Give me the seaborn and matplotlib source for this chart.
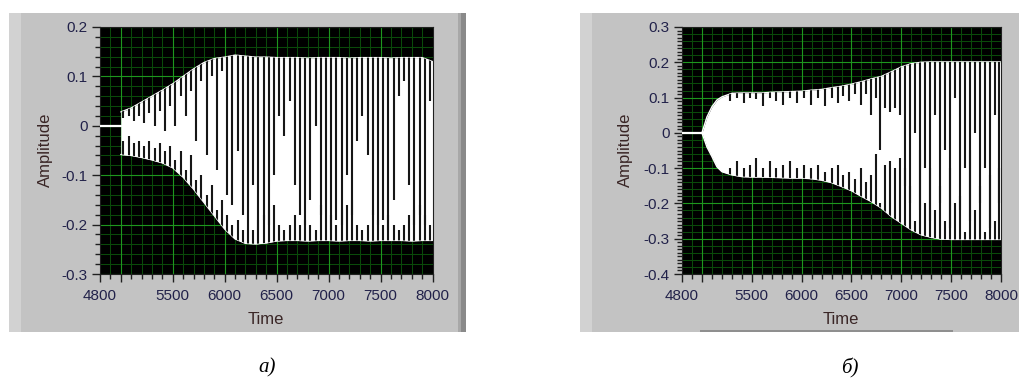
import matplotlib
matplotlib.use("Agg")
import numpy as np
import pandas as pd
import matplotlib.pyplot as plt
import seaborn as sns
from matplotlib.patches import Rectangle
from matplotlib.ticker import FixedLocator, MultipleLocator

# ---------------- data ----------------
# panel a) envelope of the oscillation
a_env_t = [5000, 5100, 5200, 5300, 5400, 5500, 5600, 5700, 5800, 5900, 6000,
           6100, 6200, 6300, 6400, 6500, 6600, 6700, 6800, 6900, 7000,
           7100, 7200, 7300, 7400, 7500, 7600, 7700, 7800, 7900, 8000]
a_env_hi = [0.028, 0.036, 0.048, 0.060, 0.072, 0.085, 0.100, 0.115, 0.128, 0.136, 0.139,
            0.143, 0.141, 0.139, 0.139, 0.138, 0.138, 0.138, 0.137, 0.138, 0.138,
            0.138, 0.137, 0.138, 0.138, 0.138, 0.137, 0.138, 0.138, 0.138, 0.130]
a_env_lo = [-0.058, -0.060, -0.064, -0.069, -0.075, -0.085, -0.104, -0.128, -0.155, -0.182, -0.209,
            -0.229, -0.238, -0.239, -0.237, -0.233, -0.232, -0.232, -0.233, -0.232, -0.232,
            -0.233, -0.232, -0.232, -0.233, -0.232, -0.232, -0.232, -0.233, -0.232, -0.232]
# panel a) dark gaps between strokes: time, lowest point of gap from top, highest point of gap from bottom
a_gap_t = [5025, 5075, 5125, 5175, 5225, 5275, 5325, 5375, 5425, 5475,
           5525, 5575, 5625, 5675, 5725, 5775, 5825, 5875, 5925, 5975,
           6025, 6075, 6125, 6175, 6225, 6275, 6325, 6375, 6425, 6475,
           6525, 6575, 6625, 6675, 6725, 6775, 6825, 6875, 6925, 6975,
           7025, 7075, 7125, 7175, 7225, 7275, 7325, 7375, 7425, 7475,
           7525, 7575, 7625, 7675, 7725, 7775, 7825, 7875, 7925, 7975]
a_gap_top = [0.015, 0.020, 0.010, 0.020, 0.005, 0.025, 0.000, 0.030, -0.010, 0.040,
             0.000, 0.060, 0.020, 0.070, -0.030, 0.090, -0.060, 0.100, -0.090, 0.110,
             -0.140, -0.160, -0.050, -0.180, -0.200, -0.120, -0.210, -0.190, -0.200, -0.100,
             0.020, -0.020, 0.050, -0.120, -0.180, -0.200, -0.150, 0.000, -0.180, -0.200,
             -0.210, -0.190, -0.200, -0.100, -0.180, -0.030, 0.020, -0.060, -0.180, -0.200,
             -0.190, -0.210, -0.150, 0.060, 0.090, -0.120, -0.200, -0.180, -0.200, 0.050]
a_gap_bot = [-0.030, -0.020, -0.035, -0.030, -0.040, -0.030, -0.045, -0.035, -0.050, -0.040,
             -0.070, -0.050, -0.090, -0.060, -0.110, -0.100, -0.140, -0.120, -0.170, -0.150,
             -0.180, -0.200, -0.190, -0.210, -0.200, -0.210, -0.190, -0.180, -0.170, -0.160,
             -0.200, -0.210, -0.200, -0.180, -0.200, -0.190, -0.200, -0.210, -0.160, -0.200,
             -0.180, -0.200, -0.170, -0.160, -0.150, -0.200, -0.210, -0.200, -0.170, -0.190,
             -0.200, -0.180, -0.200, -0.210, -0.200, -0.180, -0.170, -0.160, -0.180, -0.200]

# panel б) envelope
b_env_t = [5000, 5050, 5100, 5150, 5200, 5300, 5400, 5500, 5600, 5700, 5800, 5900, 6000,
           6100, 6200, 6300, 6400, 6500, 6600, 6700, 6800, 6900, 7000,
           7100, 7200, 7300, 7400, 7500, 7600, 7700, 7800, 7900, 8000]
b_env_hi = [0.0, 0.045, 0.074, 0.093, 0.102, 0.112, 0.113, 0.113, 0.113, 0.115, 0.116, 0.117, 0.118,
            0.121, 0.123, 0.128, 0.132, 0.138, 0.145, 0.153, 0.160, 0.173, 0.187,
            0.196, 0.200, 0.201, 0.201, 0.201, 0.201, 0.201, 0.201, 0.201, 0.201]
b_env_lo = [0.0, -0.040, -0.067, -0.096, -0.110, -0.119, -0.124, -0.125, -0.125, -0.126, -0.127, -0.128, -0.128,
            -0.130, -0.134, -0.141, -0.152, -0.164, -0.180, -0.195, -0.213, -0.237, -0.256,
            -0.275, -0.289, -0.296, -0.301, -0.302, -0.302, -0.302, -0.302, -0.302, -0.302]
b_gap_t = [5280, 5350, 5420, 5480, 5540, 5610, 5680, 5740, 5810, 5880, 5950, 6020,
           6090, 6160, 6230, 6300, 6360, 6420, 6480, 6540, 6600, 6650, 6700, 6745,
           6790, 6840, 6890, 6940, 6990, 7040, 7090, 7140, 7190, 7240, 7290, 7340,
           7390, 7440, 7490, 7540, 7590, 7640, 7690, 7740, 7790, 7840, 7890, 7940, 7980]
b_gap_top = [0.090, 0.100, 0.085, 0.100, 0.095, 0.075, 0.100, 0.090, 0.080, 0.100, 0.085, 0.100,
             0.080, 0.100, 0.075, 0.100, 0.085, 0.105, 0.090, 0.110, 0.080, 0.110, 0.050, 0.100,
             -0.050, 0.070, 0.060, 0.070, 0.050, -0.150, -0.200, 0.000, -0.220, -0.100, -0.250, 0.050,
             -0.200, -0.050, -0.270, 0.100, -0.220, -0.100, -0.250, 0.000, -0.200, -0.100, -0.270, 0.050, -0.200]
b_gap_bot = [-0.100, -0.080, -0.100, -0.090, -0.070, -0.100, -0.080, -0.100, -0.090, -0.080, -0.100, -0.090,
             -0.100, -0.090, -0.110, -0.100, -0.090, -0.120, -0.110, -0.130, -0.100, -0.140, -0.120, -0.060,
             -0.200, -0.090, -0.080, -0.100, -0.070, -0.100, -0.150, -0.250, -0.050, -0.200, -0.100, -0.220,
             -0.150, -0.250, -0.100, -0.200, -0.180, -0.280, -0.050, -0.220, -0.150, -0.280, -0.120, -0.250, -0.100]

x_tick_vals = [4800, 5000, 5500, 6000, 6500, 7000, 7500, 8000]
x_tick_labels = ["4800", "", "5500", "6000", "6500", "7000", "7500", "8000"]
a_y_ticks = [0.2, 0.1, 0.0, -0.1, -0.2, -0.3]
a_y_labels = ["0.2", "0.1", "0", "-0.1", "-0.2", "-0.3"]
b_y_ticks = [0.3, 0.2, 0.1, 0.0, -0.1, -0.2, -0.3, -0.4]
b_y_labels = ["0.3", "0.2", "0.1", "0", "-0.1", "-0.2", "-0.3", "-0.4"]

# ---------------- styling ----------------
sns.set_theme(style="dark")
plt.rcParams["font.family"] = ["Liberation Sans", "DejaVu Sans"]

TICK_COL = "#22224a"
LAB_COL = "#3a2626"
FRAME = "#c3c3c3"
MAJ_GRID = "#1e961e"
MIN_GRID = "#0a4a0a"

fig = plt.figure(figsize=(10.19, 3.80), dpi=100)
fig.patch.set_facecolor("white")

def px(x, y, w, h):
    return (x / 1019, 1 - (y + h) / 380, w / 1019, h / 380)

# grey LabVIEW frames
for (x, y, w, h, c) in [(9, 13, 457, 319, FRAME), (9, 13, 12, 319, "#d2d2d2"),
                         (461, 13, 5, 319, "#8a8a8a"), (458, 13, 3, 319, "#a8a8a8"),
                         (580, 13, 439, 319, FRAME), (580, 13, 12, 319, "#d2d2d2"),
                         (700, 330, 253, 2, "#8f8f8f")]:
    b = px(x, y, w, h)
    r = Rectangle(b[:2], b[2], b[3], transform=fig.transFigure,
                  facecolor=c, edgecolor="none", zorder=-5)
    fig.add_artist(r)

ax_a = fig.add_axes(px(100, 27, 332.5, 247))
ax_b = fig.add_axes(px(682, 27, 319, 247))
ax_a.set_zorder(2)
ax_b.set_zorder(2)


def draw_panel(ax, env_t, env_hi, env_lo, gap_t, gap_top, gap_bot, ylim, yticks, ylabels,
               yminor, gap_lw):
    ax.set_facecolor("black")
    ax.set_axisbelow(True)
    ax.set_xlim(4800, 8000)
    ax.set_ylim(*ylim)
    ax.xaxis.set_major_locator(FixedLocator(x_tick_vals))
    ax.set_xticklabels(x_tick_labels)
    ax.xaxis.set_minor_locator(MultipleLocator(100))
    ax.yaxis.set_major_locator(FixedLocator(yticks))
    ax.set_yticklabels(ylabels)
    ax.yaxis.set_minor_locator(MultipleLocator(yminor))
    ax.grid(False)
    for xv in np.arange(4900, 8000, 100):
        ax.axvline(xv, color=MIN_GRID, lw=0.75, zorder=0.4)
    for yv in np.arange(ylim[0], ylim[1] + 1e-9, 0.02):
        ax.axhline(yv, color=MIN_GRID, lw=0.75, zorder=0.4)
    for xv in x_tick_vals[1:-1]:
        ax.axvline(xv, color=MAJ_GRID, lw=0.8, zorder=0.5)
    for yv in yticks:
        ax.axhline(yv, color=MAJ_GRID, lw=0.8, zorder=0.5)

    # flat line before onset
    base = pd.DataFrame({"t": [4800, env_t[0]], "v": [0.0, 0.0]})
    sns.lineplot(data=base, x="t", y="v", ax=ax, color="white", lw=1.6, zorder=3)

    # signal envelope (white)
    env = pd.DataFrame({"t": env_t, "hi": env_hi, "lo": env_lo})
    poly = ax.fill_between(env["t"], env["lo"], env["hi"], color="white", lw=0, zorder=2)
    sns.lineplot(data=env, x="t", y="hi", ax=ax, color="white", lw=1.0, zorder=2)
    sns.lineplot(data=env, x="t", y="lo", ax=ax, color="white", lw=1.0, zorder=2)

    # dark gaps between strokes, clipped to the signal area
    path = poly.get_paths()[0]
    l1 = ax.vlines(gap_t, gap_top, ylim[1], color="#161616", lw=gap_lw, zorder=2.5)
    l2 = ax.vlines(gap_t, ylim[0], gap_bot, color="#161616", lw=gap_lw, zorder=2.5)
    for ln in (l1, l2):
        ln.set_clip_path(path, transform=ax.transData)

    ax.set_xlabel("")
    ax.set_ylabel("")
    for s in ax.spines.values():
        s.set_visible(True)
        s.set_color("#202020")
        s.set_linewidth(0.8)
    ax.tick_params(axis="both", which="major", length=6, width=1.0, color="#202020",
                   labelsize=11, labelcolor=TICK_COL, bottom=True, left=True)
    ax.tick_params(axis="both", which="minor", length=3.5, width=1.0, color="#202020",
                   bottom=True, left=True)
    ax.tick_params(axis="y", which="major", pad=3)
    ax.tick_params(axis="x", which="major", pad=5)


draw_panel(ax_a, a_env_t, a_env_hi, a_env_lo, a_gap_t, a_gap_top, a_gap_bot,
           (-0.3, 0.2), a_y_ticks, a_y_labels, 0.02, 1.5)
draw_panel(ax_b, b_env_t, b_env_hi, b_env_lo, b_gap_t, b_gap_top, b_gap_bot,
           (-0.4, 0.3), b_y_ticks, b_y_labels, 0.01, 1.5)

# axis titles and captions
fig.text(45 / 1019, 1 - 150 / 380, "Amplitude", rotation=90, ha="center", va="center",
         fontsize=12, color=LAB_COL)
fig.text(625 / 1019, 1 - 150 / 380, "Amplitude", rotation=90, ha="center", va="center",
         fontsize=12, color=LAB_COL)
fig.text(266 / 1019, 1 - 320 / 380, "Time", ha="center", va="center", fontsize=12, color=LAB_COL)
fig.text(841 / 1019, 1 - 320 / 380, "Time", ha="center", va="center", fontsize=12, color=LAB_COL)
fig.text(267 / 1019, 1 - 368 / 380, "a)", ha="center", va="center", fontsize=15,
         style="italic", family=["Liberation Serif", "DejaVu Serif"], color="black")
fig.text(850 / 1019, 1 - 368 / 380, "б)", ha="center", va="center", fontsize=15,
         style="italic", family=["Liberation Serif", "DejaVu Serif"], color="black")

fig.savefig("out.png", dpi=100, facecolor="white")
